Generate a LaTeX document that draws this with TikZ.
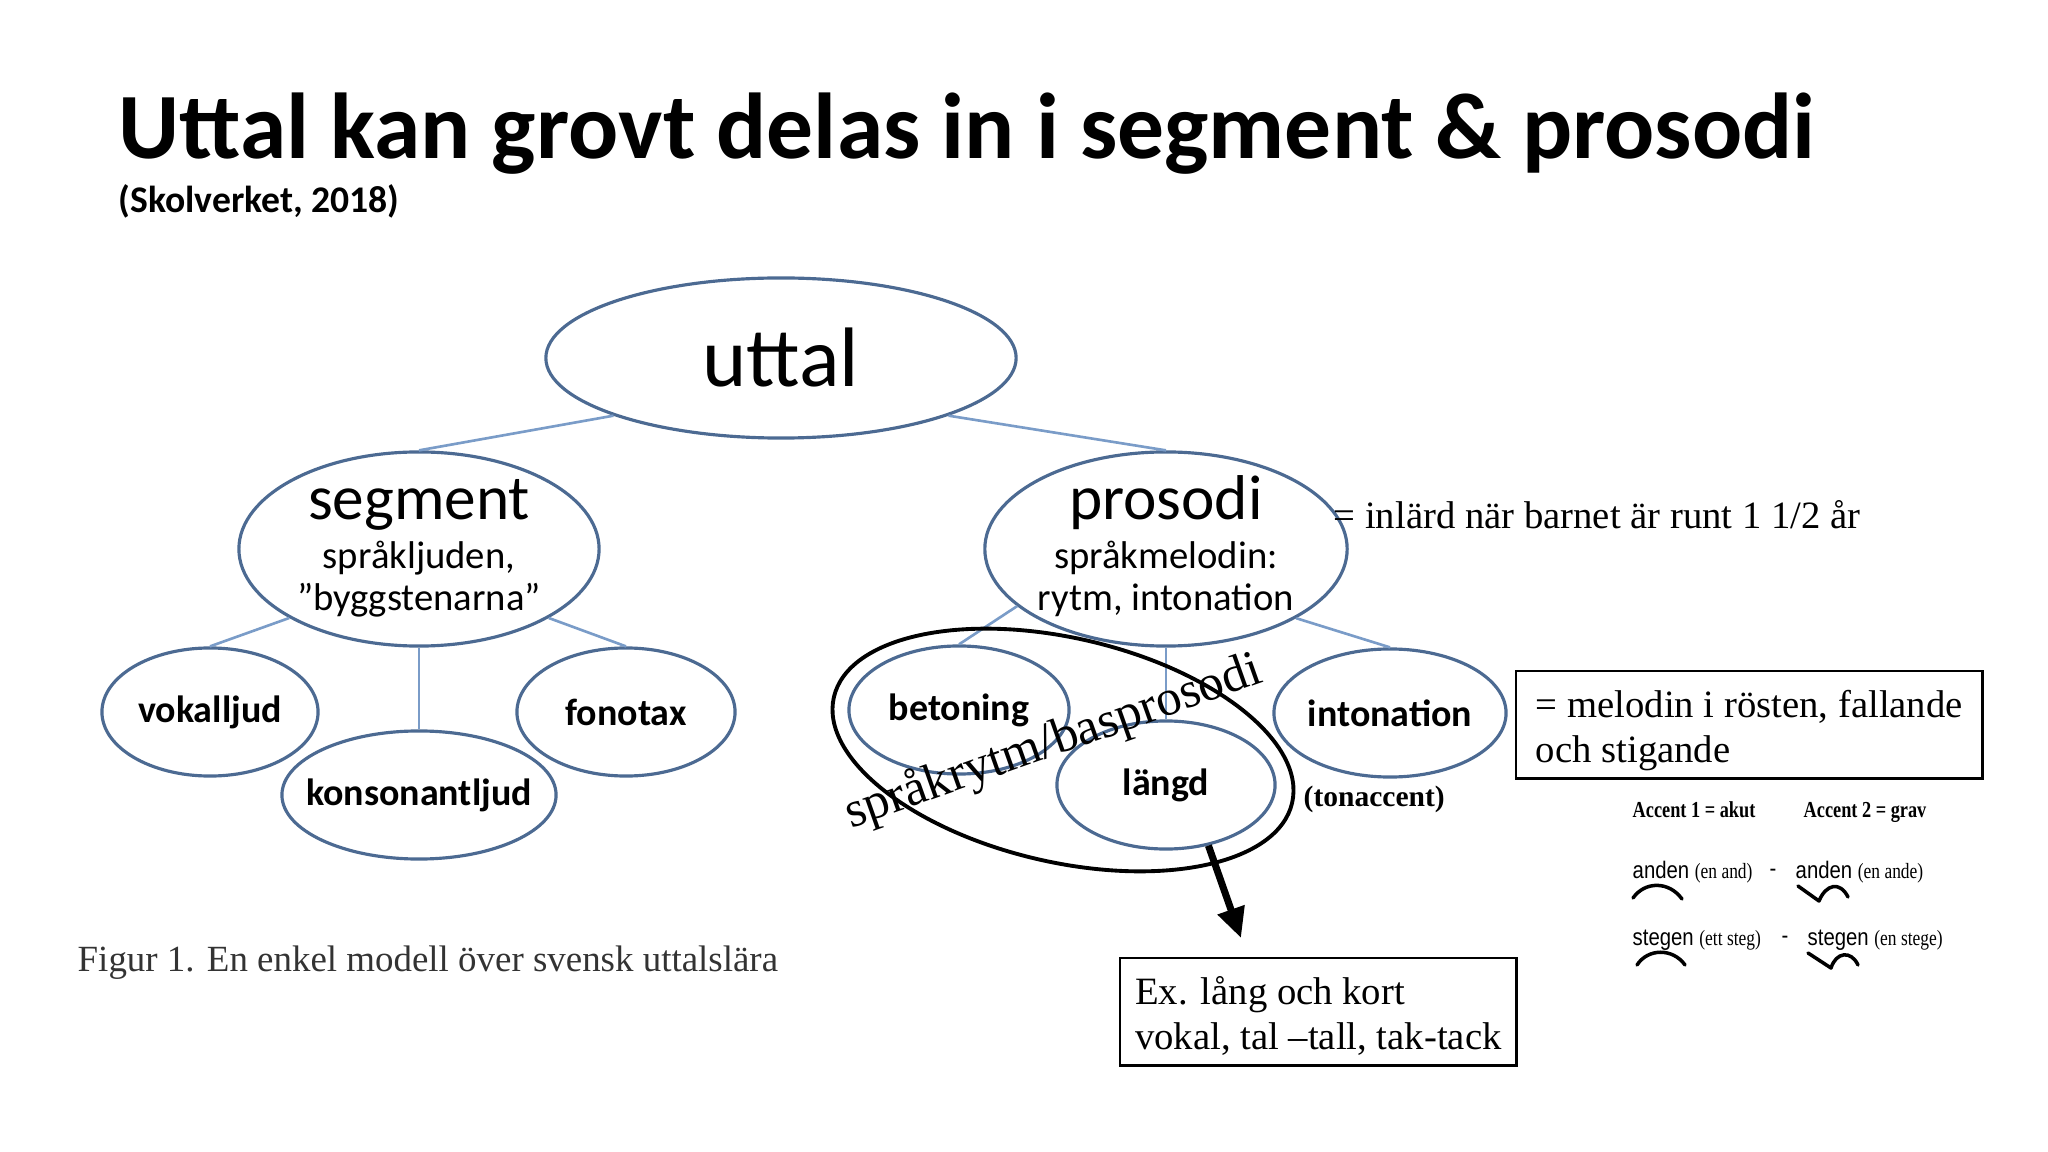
\documentclass[tikz,border=0pt]{standalone}
\usepackage{fontspec}
\setmainfont{Carlito}
\newfontfamily\timesfont{Liberation Serif}
\newfontfamily\narrowserif[FakeStretch=0.8]{Liberation Serif}
\newfontfamily\narrowsans[FakeStretch=0.85]{Liberation Sans}
\usetikzlibrary{shapes.geometric,arrows.meta,positioning}
\definecolor{BubbleBlue}{HTML}{4C6A92}
\definecolor{TwigBlue}{HTML}{7A9CC8}
\definecolor{CaptionGrey}{HTML}{333333}
\newcommand{\accentgloss}[1]{{\narrowserif\fontsize{6.2}{7}\selectfont #1}}
\tikzset{
    % Base ellipse style
    bubble/.style={
        ellipse,
        draw=BubbleBlue,
        line width=0.9pt,
        inner sep=0pt,
        align=center
    },
    % Top of the tree
    rootbubble/.style={
        bubble,
        minimum width=4.7cm,
        minimum height=1.6cm,
        font=\fontsize{24}{27}\selectfont
    },
    % Second level (title + two lines)
    mainbubble/.style={
        bubble,
        minimum width=3.6cm,
        minimum height=1.94cm,
        text height=1.25cm,
        text depth=0.03cm,
        font=\fontsize{11}{13.9}\selectfont
    },
    % Leaves
    leafbubble/.style={
        bubble,
        inner xsep=-0.25cm,
        minimum height=1.28cm,
        font=\bfseries\fontsize{10.8}{12}\selectfont
    },
    % Lines between ellipses
    twig/.style={
        draw=TwigBlue,
        line width=0.75pt
    },
    % Hand drawn ring
    ring/.style={
        ellipse,
        draw=black,
        line width=1.1pt,
        inner sep=0pt
    },
    % Thick arrow
    bigarrow/.style={
        -{Triangle[length=0.3cm, width=0.27cm]},
        line width=2pt,
        draw=black
    },
    % Plain text
    plaintext/.style={
        inner sep=0pt,
        anchor=base west
    },
    headline/.style={plaintext, font=\bfseries\fontsize{26.6}{32}\selectfont},
    sourceline/.style={plaintext, font=\bfseries\fontsize{10.7}{13}\selectfont},
    serifnote/.style={plaintext, font=\timesfont\fontsize{11}{13}\selectfont},
    captionline/.style={plaintext, text=CaptionGrey, font=\timesfont\fontsize{10.5}{13}\selectfont},
    % Framed notes (baseline of the box = last line)
    notebox/.style={
        draw=black,
        line width=0.7pt,
        anchor=north west,
        inner xsep=0pt,
        inner ysep=0pt,
        text height=0.91cm,
        text depth=0.16cm,
        align=left,
        font=\timesfont\fontsize{11}{12.8}\selectfont
    },
    % Accent table
    accenthead/.style={plaintext, font=\narrowserif\bfseries\fontsize{6.5}{8}\selectfont},
    accentword/.style={plaintext, font=\narrowsans\fontsize{6.8}{8}\selectfont},
    tonecurve/.style={line width=1pt, line cap=round, line join=round}
}
\begin{document}
\begin{tikzpicture}[x=0.01cm, y=-0.01cm]
        \useasboundingbox (0,0) rectangle (2048,1152);

        % Heading
        \node[headline] (title) at (118,159) {Uttal kan grovt delas in i segment \& prosodi};
        \node[sourceline] (source) at (118,213) {(Skolverket, 2018)};

        % Tree
        \node[rootbubble] (uttal) at (781,358) {uttal};
        \node[mainbubble] (segment) at (419,549) {
            {\fontsize{18}{20}\selectfont segment}\\
            språkljuden,\\[-2pt]
            ”byggstenarna”
        };
        \node[mainbubble] (prosodi) at (1166,549) {
            {\fontsize{18}{20}\selectfont prosodi}\\
            språkmelodin:\\[-2pt]
            rytm, intonation
        };
        \node[leafbubble, minimum width=2.16cm] (vokalljud) at (210,712) {vokalljud};
        \node[leafbubble, minimum width=2.74cm] (konsonantljud) at (419,795) {konsonantljud};
        \node[leafbubble, minimum width=2.18cm] (fonotax) at (626,712) {fonotax};
        \node[leafbubble, minimum width=2.2cm] (betoning) at (959,710) {betoning};
        \node[leafbubble, minimum width=2.18cm] (langd) at (1166,785) {längd};
        \node[leafbubble, minimum width=2.32cm] (intonation) at (1390,713) {intonation};

        % Lines
        \draw[twig] (uttal.199) -- (segment.north);
        \draw[twig] (uttal.-19) -- (prosodi.north);
        \draw[twig] (segment.208) -- (vokalljud.north);
        \draw[twig] (segment.south) -- (konsonantljud.north);
        \draw[twig] (segment.-28) -- (fonotax.north);
        \draw[twig] (prosodi.201) -- (betoning.north);
        \draw[twig] (prosodi.south) -- (langd.north);
        \draw[twig] (prosodi.-28) -- (intonation.north);

        % Ring around betoning and längd
        \node[ring, rotate=-13, minimum width=4.7cm, minimum height=2.24cm] (rytmring) at (1063,750) {};
        \node[inner sep=0pt, anchor=base, rotate=19.5, font=\timesfont\fontsize{14.4}{16}\selectfont] (rytmtext) at (1058,755) {språkrytm/basprosodi};

        % Notes
        \node[serifnote] (inlard) at (1333,529) {= inlärd när barnet är runt 1 1/2 år};
        \node[serifnote, font=\timesfont\bfseries\fontsize{8.4}{10}\selectfont] (tonaccent) at (1303,806) {(tonaccent)};
        \node[notebox, minimum width=4.66cm] (melodibox) at (1515,670) {= melodin i rösten, fallande\\och stigande};
        \node[notebox, minimum width=3.96cm] (exbox) at (1119,957) {Ex. lång och kort\\vokal, tal –tall, tak-tack};

        % Arrow down to the example
        \coordinate (pilspets) at (1241,938);
        \draw[bigarrow] (langd.-55) -- (pilspets);

        % Caption
        \node[captionline] (figcaption) at (77,971) {Figur 1. En enkel modell över svensk uttalslära};

        % Accent table
        \node[accenthead] (akuthead) at (1632,817) {Accent 1 = akut};
        \node[accenthead] (gravhead) at (1803,817) {Accent 2 = grav};
        \node[accentword] (andenakut) at (1632,878) {anden \accentgloss{(en and)}};
        \node[accentword, anchor=base] (strecka) at (1773,876) {-};
        \node[accentword] (andengrav) at (1795,878) {anden \accentgloss{(en ande)}};
        \node[accentword] (stegenakut) at (1632,945) {stegen \accentgloss{(ett steg)}};
        \node[accentword, anchor=base] (streckb) at (1785,943) {-};
        \node[accentword] (stegengrav) at (1807,945) {stegen \accentgloss{(en stege)}};
        \draw[tonecurve] (1633,898) .. controls (1645,881) and (1669,881) .. (1682,899);
        \draw[tonecurve] (1798,886) -- (1819,901) .. controls (1826,884) and (1840,881) .. (1848,897);
        \draw[tonecurve] (1637,965) .. controls (1648,948) and (1673,948) .. (1685,965);
        \draw[tonecurve] (1808,953) -- (1831,968) .. controls (1836,952) and (1851,950) .. (1858,965);
    \end{tikzpicture}
\end{document}
